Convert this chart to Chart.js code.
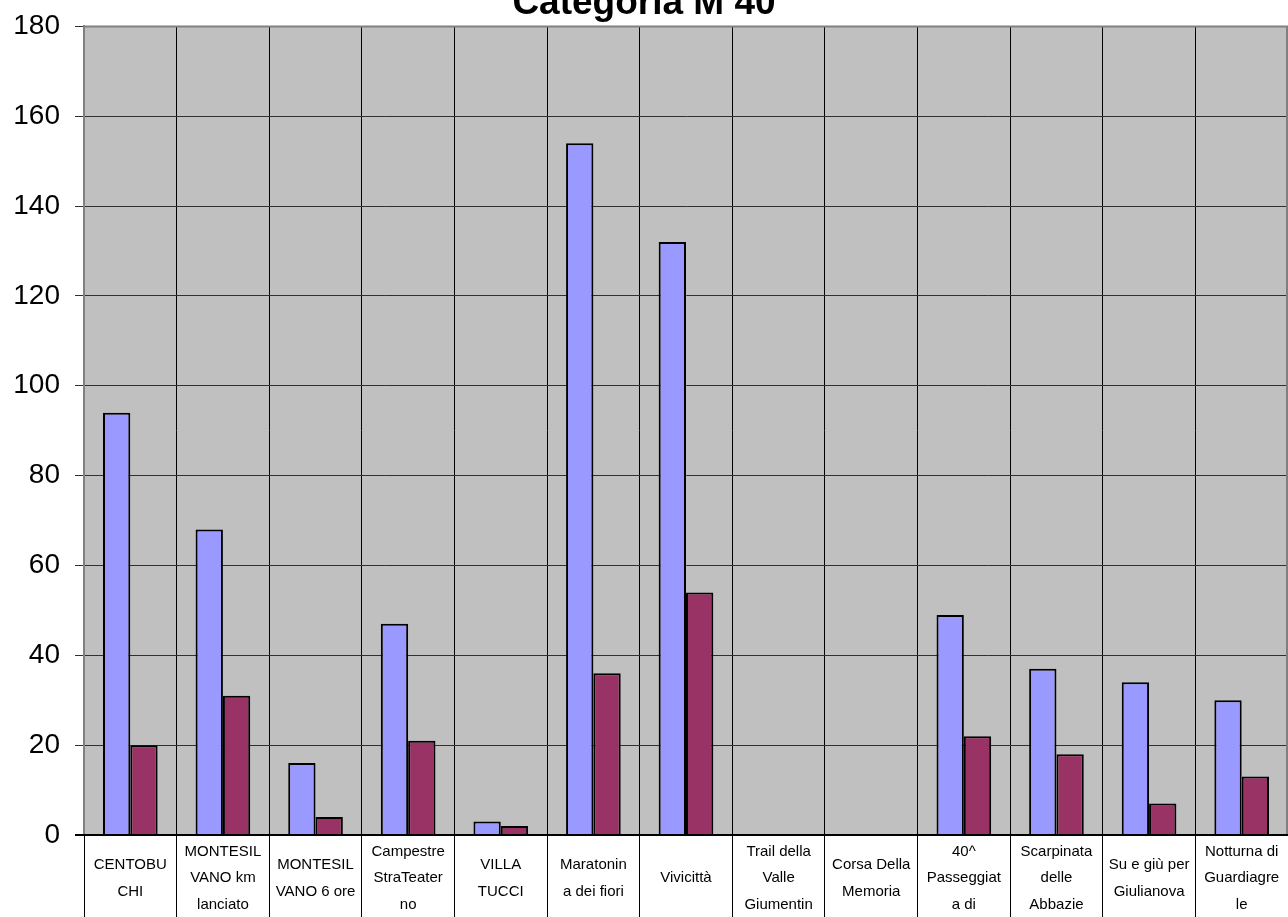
<!DOCTYPE html>
<html>
<head>
<meta charset="utf-8">
<script src="https://cdn.jsdelivr.net/npm/chart.js@4.4.1/dist/chart.umd.min.js"></script>
<style>
  body { margin: 0; background: #fff; }
  #wrap { position: relative; width: 1288px; height: 917px; overflow: hidden; }
  #myChart { position: absolute; left: 0; top: -20px; }
</style>
</head>
<body>
<div id="wrap">
  <canvas id="myChart" width="1288" height="937"></canvas>
</div>
<script>
// categories as wrapped in the original label boxes
const categories = [
  ['CENTOBU', 'CHI'],
  ['MONTESIL', 'VANO km', 'lanciato'],
  ['MONTESIL', 'VANO 6 ore'],
  ['Campestre', 'StraTeater', 'no'],
  ['VILLA', 'TUCCI'],
  ['Maratonin', 'a dei fiori'],
  ['Vivicittà'],
  ['Trail della', 'Valle', 'Giumentin'],
  ['Corsa Della', 'Memoria'],
  ['40^', 'Passeggiat', 'a di'],
  ['Scarpinata', 'delle', 'Abbazie'],
  ['Su e giù per', 'Giulianova'],
  ['Notturna di', 'Guardiagre', 'le']
];
const seriesA = [94, 68, 16, 47, 3, 154, 132, 0, 0, 49, 37, 34, 30];
const seriesB = [20, 31, 4, 21, 2, 36, 54, 0, 0, 22, 18, 7, 13];
const yTicks = [0, 20, 40, 60, 80, 100, 120, 140, 160, 180];

// grey plot background + frame
const plotFrame = {
  id: 'plotFrame',
  beforeDraw(chart) {
    const {ctx, chartArea: a} = chart;
    ctx.save();
    ctx.fillStyle = '#c0c0c0';
    ctx.fillRect(a.left, a.top, a.right - a.left, a.bottom - a.top);
    ctx.restore();
  },
  afterDatasetsDraw(chart) {
    const {ctx, chartArea: a} = chart;
    ctx.save();
    ctx.strokeStyle = '#808080';
    ctx.lineWidth = 2;
    ctx.beginPath();
    ctx.moveTo(a.left, a.top);
    ctx.lineTo(a.right - 1, a.top);
    ctx.lineTo(a.right - 1, a.bottom);
    ctx.stroke();
    ctx.strokeStyle = '#000';
    ctx.beginPath();
    ctx.moveTo(a.left - 9, a.bottom);
    ctx.lineTo(a.right, a.bottom);
    ctx.stroke();
    ctx.restore();
  }
};

new Chart(document.getElementById('myChart').getContext('2d'), {
  type: 'bar',
  data: {
    labels: categories,
    datasets: [
      {
        label: 'A',
        data: seriesA,
        backgroundColor: '#9999ff',
        borderColor: '#000',
        borderWidth: 2,
        borderSkipped: 'bottom'
      },
      {
        label: 'B',
        data: seriesB,
        backgroundColor: '#993366',
        borderColor: '#000',
        borderWidth: 2,
        borderSkipped: 'bottom'
      }
    ]
  },
  plugins: [plotFrame],
  options: {
    responsive: false,
    animation: false,
    devicePixelRatio: 1,
    layout: { padding: 0 },
    categoryPercentage: 0.59,
    barPercentage: 1.0,
    plugins: {
      legend: { display: false },
      tooltip: { enabled: false },
      title: {
        display: true,
        text: 'Categoria M 40',
        color: '#000',
        font: { family: '"Liberation Sans", Arial, sans-serif', size: 37, weight: 'bold' },
        padding: { top: 2, bottom: 0 }
      }
    },
    scales: {
      x: {
        offset: true,
        grid: {
          offset: true,
          color: '#000',
          lineWidth: 1,
          drawTicks: true,
          tickLength: 82,
          tickColor: '#000'
        },
        border: { display: false },
        ticks: {
          autoSkip: false,
          maxRotation: 0,
          minRotation: 0,
          crossAlign: 'center',
          padding: -65,
          color: '#000',
          font: { family: '"Liberation Sans", Arial, sans-serif', size: 15, lineHeight: 1.75 }
        },
        afterFit(scale) { scale.height = 82; }
      },
      y: {
        min: 0,
        max: 180,
        afterBuildTicks(scale) { scale.ticks = yTicks.map(v => ({ value: v })); },
        grid: {
          color: '#303030',
          lineWidth: 1,
          tickLength: 9,
          tickColor: '#303030'
        },
        border: { display: true, color: '#808080', width: 2 },
        ticks: {
          padding: 15,
          color: '#000',
          font: { family: '"Liberation Sans", Arial, sans-serif', size: 28 }
        },
        afterFit(scale) { scale.width = 84; }
      }
    }
  }
});
</script>
</body>
</html>
